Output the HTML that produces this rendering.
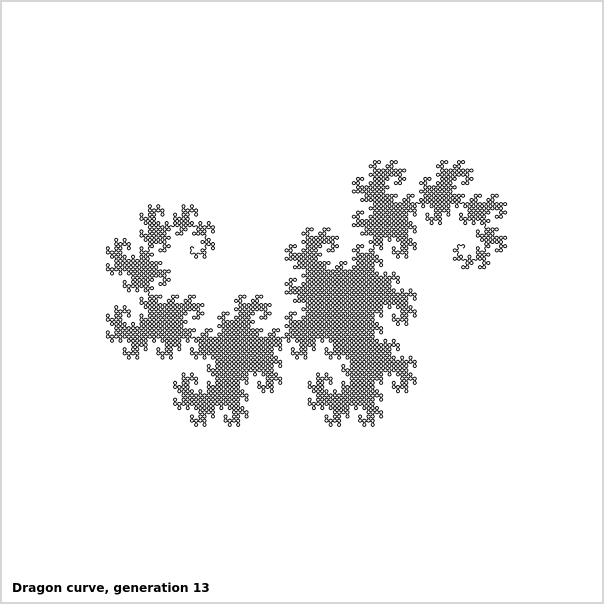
<!DOCTYPE html>
<html><head><meta charset="utf-8"><style>
html,body{margin:0;padding:0;background:#fff}
#frame{position:absolute;left:0;top:0;width:600px;height:600px;border:2px solid #d6d6d6;background:#fff}
#title{position:absolute;left:12px;top:581px;font:bold 12.2px "DejaVu Sans","Liberation Sans",sans-serif;color:#000}
svg{position:absolute;left:0;top:0}
</style></head><body>
<div id="frame"></div>
<svg id="plot" width="604" height="604"></svg>
<div id="title">Dragon curve, generation 13</div>
<script>
const generation = 13;
const box = {x0:105, y0:160, x1:508, y1:427};
const n = 1 << generation;
let x=0,y=0,d=0;
const dx=[1,0,-1,0], dy=[0,1,0,-1];
const pts=[[0,0]];
for(let i=1;i<=n;i++){
  x+=dx[d];y+=dy[d];pts.push([x,y]);
  if(i<n){ const r=(((i & -i)<<1)&i)!==0; d=(d+(r?1:3))%4; }
}
function tf(p,o){const a=(o&7)*Math.PI/4;let u=p[0]*Math.cos(a)-p[1]*Math.sin(a),v=p[0]*Math.sin(a)+p[1]*Math.cos(a);if(o&8)u=-u;return [u,v];}
const target=(box.x1-box.x0)/(box.y1-box.y0);
let cands=[];
for(let o=0;o<16;o++){let q=pts.map(p=>tf(p,o));let xs=q.map(p=>p[0]),ys=q.map(p=>p[1]);
 let w=Math.max(...xs)-Math.min(...xs),h=Math.max(...ys)-Math.min(...ys);cands.push({o,err:Math.abs(w/h-target)});}
cands.sort((a,b)=>a.err-b.err||a.o-b.o);
const base=cands[0].o;
const use=(((base&7)+4)&7)|(base&8);
let q=pts.map(p=>tf(p,use));
let xs=q.map(p=>p[0]),ys=q.map(p=>p[1]);
let mnx=Math.min(...xs),mxx=Math.max(...xs),mny=Math.min(...ys),mxy=Math.max(...ys);
let s=Math.min((box.x1-box.x0)/(mxx-mnx),(box.y1-box.y0)/(mxy-mny));
let ox=(box.x0+box.x1)/2-(mnx+mxx)/2*s, oy=(box.y0+box.y1)/2-(mny+mxy)/2*s;
const P=p=>[(p[0]*s+ox),(p[1]*s+oy)];
const f=v=>v.toFixed(2);
let sp=q.map(P);
let parts=['M'+f(sp[0][0])+' '+f(sp[0][1])];
for(let i=1;i<sp.length-1;i++){
  const a=sp[i-1],b=sp[i],c=sp[i+1];
  const m1=[(a[0]+b[0])/2,(a[1]+b[1])/2], m2=[(b[0]+c[0])/2,(b[1]+c[1])/2];
  parts.push('L'+f(m1[0])+' '+f(m1[1])+'Q'+f(b[0])+' '+f(b[1])+' '+f(m2[0])+' '+f(m2[1]));
}
const e=sp[sp.length-1];parts.push('L'+f(e[0])+' '+f(e[1]));
const path=document.createElementNS('http://www.w3.org/2000/svg','path');
path.setAttribute('d',parts.join(''));path.setAttribute('fill','none');path.setAttribute('stroke','#000');
path.setAttribute('stroke-width','0.9');path.setAttribute('stroke-linejoin','round');


document.getElementById('plot').appendChild(path);
</script>
</body></html>
